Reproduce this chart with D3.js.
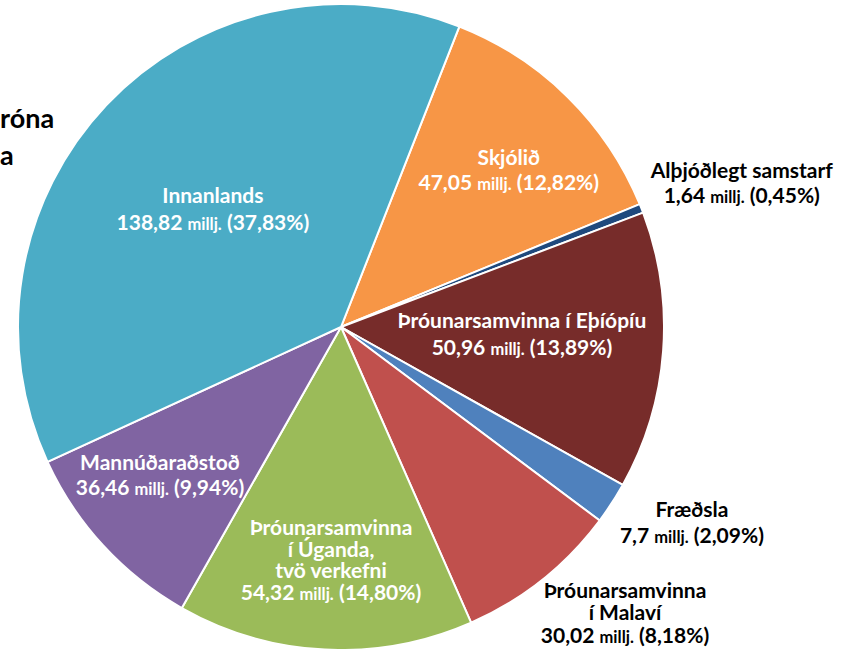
<!DOCTYPE html>
<html>
<head>
<meta charset="utf-8">
<script src="https://cdn.jsdelivr.net/npm/d3@7"></script>
<style>
  body { margin: 0; background: #fff; }
  svg { display: block; font-family: Lato, "Open Sans", sans-serif; font-weight: bold; }
</style>
</head>
<body>
<div id="vis-container"></div>
<script>
const width = 856;
const height = 649;

// data
const names = ["Skjólið", "Alþjóðlegt samstarf", "Þróunarsamvinna í Eþíópíu", "Fræðsla",
               "Þróunarsamvinna í Malaví", "Þróunarsamvinna í Úganda, tvö verkefni",
               "Mannúðaraðstoð", "Innanlands"];
const amounts = ["47,05", "1,64", "50,96", "7,7", "30,02", "54,32", "36,46", "138,82"];
const shares = [12.82, 0.45, 13.89, 2.09, 8.18, 14.80, 9.94, 37.83];
const nameLines = [["Skjólið"], ["Alþjóðlegt samstarf"], ["Þróunarsamvinna í Eþíópíu"], ["Fræðsla"],
                   ["Þróunarsamvinna", "í Malaví"], ["Þróunarsamvinna", "í Úganda,", "tvö verkefni"],
                   ["Mannúðaraðstoð"], ["Innanlands"]];
const colors = ["#F79646", "#1F497D", "#772C2A", "#4F81BD", "#C0504D", "#9BBB59", "#8064A2", "#4BACC6"];
const titleLines = ["róna", "a"];   // only the visible tail of the title

// label placement (radius factor, angle shift in degrees, line height)
const labelR = [0.696, 1.311, 0.562, 1.255, 1.264, 0.745, 0.739, 0.524];
const labelShift = [3.7, 2.7, 0.3, -3.0, -5.6, -0.5, 1.9, -2.6];
const lineH = [25, 25, 27, 26, 22.5, 21.7, 25, 27];

const cx = 341, cy = 327, R = 323;
const startAngle = 21.5 * Math.PI / 180;

const svg = d3.select("#vis-container")
  .append("svg")
  .attr("width", width)
  .attr("height", height);

// partially visible title on the left
svg.selectAll(".title")
  .data(titleLines)
  .enter()
  .append("text")
    .attr("class", "title")
    .attr("x", 0)
    .attr("y", (d, i) => 128 + i * 37)
    .attr("font-size", 27)
    .attr("fill", "#000")
    .text(d => d);

const pie = d3.pie()
  .sort(null)
  .value(d => d)
  .startAngle(startAngle)
  .endAngle(startAngle + 2 * Math.PI);

const arcs = pie(shares);

const arc = d3.arc().innerRadius(0).outerRadius(R);

const g = svg.append("g").attr("transform", `translate(${cx},${cy})`);

g.selectAll("path")
  .data(arcs)
  .enter()
  .append("path")
    .attr("d", arc)
    .attr("fill", (d, i) => colors[i])
    .attr("stroke", "#fff")
    .attr("stroke-width", 2);

// labels
arcs.forEach((a, i) => {
  const mid = (a.startAngle + a.endAngle) / 2 + labelShift[i] * Math.PI / 180;
  const r = labelR[i] * R;
  const x = r * Math.sin(mid);
  const y = -r * Math.cos(mid);
  const inside = labelR[i] < 1;
  const lines = nameLines[i].concat(["__value__"]);
  const n = lines.length;
  const t = g.append("text")
    .attr("text-anchor", "middle")
    .attr("fill", inside ? "#fff" : "#000")
    .attr("font-size", 21);
  lines.forEach((ln, j) => {
    const yy = y - (n - 1) * lineH[i] / 2 + j * lineH[i];
    if (ln === "__value__") {
      const ts = t.append("tspan").attr("x", x).attr("y", yy);
      ts.append("tspan").text(amounts[i] + " ");
      ts.append("tspan").attr("font-size", 16.5).text("millj.");
      ts.append("tspan").text(" (" + shares[i].toFixed(2).replace(".", ",") + "%)");
    } else {
      t.append("tspan").attr("x", x).attr("y", yy).text(ln);
    }
  });
});
</script>
</body>
</html>
